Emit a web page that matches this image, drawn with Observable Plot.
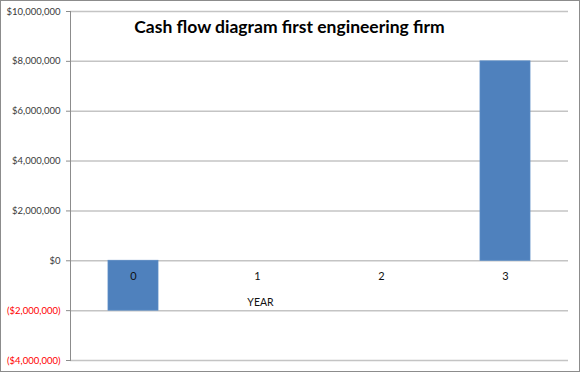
<!DOCTYPE html>
<html>
<head>
<meta charset="utf-8">
<script src="https://cdn.jsdelivr.net/npm/d3@7"></script>
<script src="https://cdn.jsdelivr.net/npm/@observablehq/plot@0.6"></script>
<style>
  html, body { margin: 0; padding: 0; background: #fff; }
  #chart svg { display: block; outline: 1px solid #8c8c8c; outline-offset: -1px; }
</style>
</head>
<body>
<div id="chart"></div>
<script>
const title = "Cash flow diagram first engineering firm";
const years = ["0", "1", "2", "3"];
const cashFlow = [-2000000, 0, 0, 8000000];
const yTicks = [-4000000, -2000000, 0, 2000000, 4000000, 6000000, 8000000, 10000000];
const xAxisTitle = "YEAR";

const data = years.map((y, i) => ({year: y, value: cashFlow[i]}));
const fmt = v => v < 0 ? "($" + d3.format(",")(-v) + ")" : "$" + d3.format(",")(v);
const font = "Lato, 'Liberation Sans', sans-serif";

const chart = Plot.plot({
  width: 580,
  height: 372,
  marginLeft: 70,
  marginRight: 12,
  marginTop: 11,
  marginBottom: 12,
  style: {fontFamily: font, background: "#fff"},
  x: {domain: years, paddingInner: 0.6, paddingOuter: 0.3, axis: null},
  y: {domain: [-4000000, 10000000], axis: null, label: null},
  marks: [
    Plot.ruleY(yTicks, {stroke: "#c4c4c4", strokeWidth: 1.5}),
    Plot.barY(data, {x: "year", y: "value", fill: "#4f81bd", stroke: "#5b8cc6", strokeWidth: 0.8}),
    Plot.axisY(yTicks, {tickSize: 4, tickFormat: () => "", stroke: "#8c8c8c", label: null}),
    Plot.frame({anchor: "left", stroke: "#8c8c8c"}),
    Plot.text(yTicks, {y: d => d, frameAnchor: "left", dx: -10, textAnchor: "end", text: fmt,
      fill: d => d < 0 ? "#ff0000" : "#3a3a3a", fontSize: 9.5}),
    Plot.text(data, {x: "year", y: 0, dy: 16, text: "year", fill: "#111", fontSize: 11}),
    Plot.text([xAxisTitle], {x: () => "1", y: () => 0, dx: 3, dy: 42, text: d => d, fill: "#111", fontSize: 10.5}),
    Plot.text([title], {frameAnchor: "top", dx: -30, dy: 9, text: d => d, fontSize: 17.5, fontWeight: "bold", fill: "#000"})
  ]
});
document.getElementById("chart").append(chart);
</script>
</body>
</html>
